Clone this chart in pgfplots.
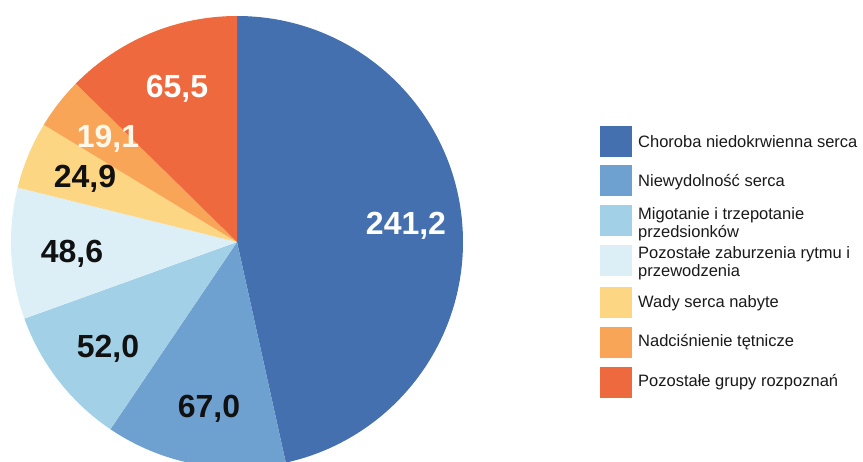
\documentclass[border=0pt]{standalone}
\usepackage{pgfplots}
\pgfplotsset{compat=1.18}
\usepackage{pgfplotstable}
\usepackage{fontspec}
\setmainfont{Liberation Sans}

\definecolor{pc0}{RGB}{69,112,176}
\definecolor{pc1}{RGB}{110,160,208}
\definecolor{pc2}{RGB}{162,208,230}
\definecolor{pc3}{RGB}{220,239,247}
\definecolor{pc4}{RGB}{252,214,130}
\definecolor{pc5}{RGB}{248,165,88}
\definecolor{pc6}{RGB}{238,106,62}
\definecolor{lc0}{RGB}{255,255,255}
\definecolor{lc1}{RGB}{17,17,17}
\definecolor{lc2}{RGB}{17,17,17}
\definecolor{lc3}{RGB}{17,17,17}
\definecolor{lc4}{RGB}{17,17,17}
\definecolor{lc5}{RGB}{255,248,232}
\definecolor{lc6}{RGB}{255,255,255}

% values of the pie, and label positions (pixel-based axis coordinates)
\pgfplotstableread{
val   lx  ly
241.2 406 226
67.0  209 43
52.0  108 103
48.6  72  198
24.9  85  273
19.1  108 313
65.5  177 363
}\piedata

\begin{document}
\begin{tikzpicture}
\def\total{0}
\pgfplotsforeachungrouped \i in {0,...,6}{%
  \pgfplotstablegetelem{\i}{val}\of\piedata
  \pgfmathsetmacro\total{\total+\pgfplotsretval}}%
\def\cum{0}
\pgfplotsforeachungrouped \i in {0,...,6}{%
  \pgfplotstablegetelem{\i}{val}\of\piedata
  \let\pv\pgfplotsretval
  \expandafter\xdef\csname pieV\i\endcsname{\pv}%
  \pgfmathsetmacro\aS{90-(\cum/\total)*360}%
  \pgfmathsetmacro\cum{\cum+\pv}%
  \pgfmathsetmacro\aE{90-(\cum/\total)*360}%
  \expandafter\xdef\csname pieS\i\endcsname{\aS}%
  \expandafter\xdef\csname pieE\i\endcsname{\aE}%
  \pgfplotstablegetelem{\i}{lx}\of\piedata
  \expandafter\xdef\csname pieX\i\endcsname{\pgfplotsretval}%
  \pgfplotstablegetelem{\i}{ly}\of\piedata
  \expandafter\xdef\csname pieY\i\endcsname{\pgfplotsretval}%
}%
\begin{axis}[
  scale only axis,
  width=863pt, height=461pt,
  xmin=0, xmax=863, ymin=0, ymax=461,
  hide axis,
]
\pgfplotsinvokeforeach{0,...,6}{%
  \edef\tmp{\noexpand\fill[pc#1] (axis cs:237,219) -- ++(\csname pieS#1\endcsname:226pt)
    arc[start angle=\csname pieS#1\endcsname, end angle=\csname pieE#1\endcsname, radius=226pt] -- cycle;}%
  \tmp
}
\pgfplotsinvokeforeach{0,...,6}{%
  \edef\tmp{\noexpand\node[anchor=base, text=lc#1, font=\noexpand\fontsize{32}{38}\noexpand\selectfont\noexpand\bfseries, inner sep=0pt]
    at (axis cs:\csname pieX#1\endcsname,\csname pieY#1\endcsname)
    {\noexpand\pgfmathprintnumber[fixed,fixed zerofill,precision=1,use comma,assume math mode=true]{\csname pieV#1\endcsname}};}%
  \tmp
}
% legend
\fill[pc0] (axis cs:600,304) rectangle (axis cs:632,335);
\fill[pc1] (axis cs:600,265) rectangle (axis cs:632,296);
\fill[pc2] (axis cs:600,225) rectangle (axis cs:632,256);
\fill[pc3] (axis cs:600,185) rectangle (axis cs:632,216);
\fill[pc4] (axis cs:600,143) rectangle (axis cs:632,174);
\fill[pc5] (axis cs:600,103) rectangle (axis cs:632,134);
\fill[pc6] (axis cs:600,63) rectangle (axis cs:632,94);
\begin{scope}[every node/.style={anchor=base west, inner sep=0pt, text=black!90, font=\fontsize{16.5}{19}\selectfont}]
\node at (axis cs:638,313) {Choroba niedokrwienna serca};
\node at (axis cs:638,274) {Niewydolność serca};
\node at (axis cs:638,241) {Migotanie i trzepotanie};
\node at (axis cs:638,223) {przedsionków};
\node at (axis cs:638,202) {Pozostałe zaburzenia rytmu i};
\node at (axis cs:638,184) {przewodzenia};
\node at (axis cs:638,153) {Wady serca nabyte};
\node at (axis cs:638,114) {Nadciśnienie tętnicze};
\node at (axis cs:638,74) {Pozostałe grupy rozpoznań};
\end{scope}
\end{axis}
\pgfresetboundingbox
\path[use as bounding box] (current axis.south west) rectangle (current axis.north east);
\end{tikzpicture}
\end{document}
